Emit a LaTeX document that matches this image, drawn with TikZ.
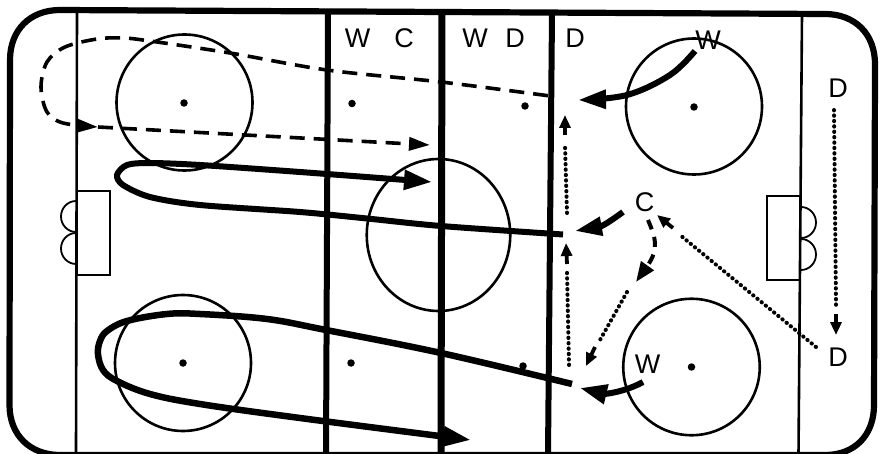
\documentclass[tikz,border=0pt]{standalone}
\usepackage{fontspec}
\setmainfont{Liberation Sans}
\usetikzlibrary{arrows.meta,shapes.geometric}
\tikzset{
 rinkline/.style={line width=6.2pt,line join=round},
 bluelinea/.style={line width=6pt},
 redlinea/.style={line width=7pt},
 thinline/.style={line width=2.6pt},
 goalbox/.style={line width=1.2pt},
 crease/.style={line width=1.8pt},
 faceoff/.style={line width=2.6pt},
 spot/.style={circle,fill=black,draw=none,minimum size=7.5pt,inner sep=0pt},
 lab/.style={font=\fontsize{27}{27}\selectfont,inner sep=0pt,text height=19pt,text depth=0pt,anchor=center},
 skate/.style={line width=6pt,line cap=butt},
 skatetip/.style={-{Triangle[length=28pt,width=19pt]}},
 dashpath/.style={line width=3.6pt,dash pattern=on 15pt off 9pt},
 dashtip/.style={-{Triangle[length=21pt,width=13pt]}},
 pass/.style={line width=4pt,line cap=round,dash pattern=on 0.4pt off 5pt},
 passshaft/.style={line width=3.8pt,-{Triangle[length=13pt,width=11pt]}},
}
\begin{document}
\begin{tikzpicture}[x=1pt,y=-1pt]
\useasboundingbox (0,0) rectangle (880,454);
\clip (0,0) rectangle (880,454);
\fill[white] (0,0) rectangle (880,454);
% rink
\draw[rinkline] (60,10) -- (825,14) .. controls (855,14) and (875,34) .. (875,64)
  -- (874,405) .. controls (874,435) and (855,455) .. (825,455) -- (60,455)
  .. controls (30,455) and (9.5,435) .. (9.5,405) -- (10,60) .. controls (10,30) and (30,10) .. (60,10) -- cycle;
% lines
\draw[thinline] (77,12) -- (76,454);
\draw[thinline] (802,14) -- (798.5,454);
\draw[bluelinea] (328,12) -- (326,454);
\draw[redlinea] (442,12) -- (441,454);
\draw[bluelinea] (552,14) -- (548,454);
% faceoff circles
\node[circle,draw,faceoff,minimum size=136pt,inner sep=0pt] (c1) at (184.5,102.5) {};
\node[circle,draw,faceoff,minimum size=136pt,inner sep=0pt] (c2) at (183,363) {};
\node[ellipse,draw,faceoff,minimum width=143.5pt,minimum height=152pt,inner sep=0pt] (c3) at (438.5,235) {};
\node[circle,draw,faceoff,minimum size=136pt,inner sep=0pt] (c4) at (694,106.5) {};
\node[circle,draw,faceoff,minimum size=136.5pt,inner sep=0pt] (c5) at (691.5,367) {};
% spots
\node[spot] (s1) at (184,103) {};
\node[spot] (s2) at (183,363) {};
\node[spot] (s3) at (352,103.5) {};
\node[spot] (s4) at (525,106) {};
\node[spot] (s5) at (351,363) {};
\node[spot] (s6) at (523,366) {};
\node[spot] (s7) at (694,107) {};
\node[spot] (s8) at (691.5,367) {};
% goals
\draw[goalbox] (77,191) rectangle (110,275);
\draw[goalbox] (767,196) rectangle (800,280);
\draw[crease] (76,201) arc[start angle=90,end angle=270,x radius=15,y radius=-15.5];
\draw[crease] (76,233) arc[start angle=90,end angle=270,x radius=15,y radius=-15.5];
\draw[crease] (801,207) arc[start angle=90,end angle=-90,x radius=15,y radius=-15.5];
\draw[crease] (801,239) arc[start angle=90,end angle=-90,x radius=15,y radius=-15.5];
% labels
\node[lab] (wa) at (357.5,38) {W};
\node[lab] (ca) at (404,38) {C};
\node[lab] (wb) at (475,38) {W};
\node[lab] (da) at (515,38) {D};
\node[lab] (db) at (575,38) {D};
\node[lab] (wc) at (708,40) {W};
\node[lab] (dc) at (838,88.5) {D};
\node[lab] (cb) at (644.5,202) {C};
\node[lab] (wd) at (647.5,363.5) {W};
\node[lab] (dd) at (838,357) {D};
% free ends
\coordinate (dashstart) at (548,95.7);
\coordinate (dashmid) at (98,127);
\coordinate (dashend) at (430,145);
\coordinate (upstart) at (563,234.5);
\coordinate (upend) at (432,182);
\coordinate (lowstart) at (572,384);
\coordinate (lowend) at (471,440);
\coordinate (wcstart) at (695,51);
\coordinate (wcend) at (578,100);
\coordinate (cbstart) at (623,212);
\coordinate (cbend) at (575,231);
\coordinate (wdstart) at (643,382);
\coordinate (wdend) at (580,388);
% dashed loop
\draw[dashpath,dashtip] plot[smooth,tension=0.55] coordinates {(dashstart) (441,82) (327,70) (230,53) (150,41) (123,38) (97,39) (65,47) (47,62) (41,87) (47,112) (63,123) (dashmid)};
\draw[dashpath,dashtip] (dashmid) -- (dashend);
% thick skating paths
\draw[skate,skatetip] plot[smooth,tension=0.5] coordinates {(upstart) (441,226) (367,218.5) (300,212) (200,205) (150,197) (123,185) (117,175) (127,165) (150,163) (200,165) (300,172) (upend)};
\draw[skate,skatetip,line width=6.5pt] plot[smooth,tension=0.6] coordinates {(lowstart) (441,353) (326,330) (267,319) (200,314) (167,314) (127,321) (107,331) (100,341) (98,354) (103,370) (117,381) (150,394) (200,404) (300,418) (lowend)};
\draw[skate,skatetip,-{Triangle[length=28pt,width=18pt]}] plot[smooth,tension=0.6] coordinates {(wcstart) (670,75) (627,95) (wcend)};
\draw[skate,-{Triangle[length=27pt,width=18pt]}] (cbstart) .. controls (612,220) and (603,226) .. (cbend);
\draw[skate,-{Triangle[length=27pt,width=19pt]}] (wdstart) .. controls (625,392) and (605,394) .. (wdend);
% dotted passes
\coordinate (pa) at (567,213);
\coordinate (pb) at (565,145);
\coordinate (pbs) at (565,135);
\coordinate (pbe) at (565,115);
\draw[pass] (pa) -- (pb);
\draw[passshaft] (pbs) -- (pbe);
\coordinate (qa) at (569,365);
\coordinate (qb) at (567,272);
\coordinate (qbs) at (567,264);
\coordinate (qbe) at (566,243);
\draw[pass] (qa) -- (qb);
\draw[passshaft] (qbs) -- (qbe);
\coordinate (ra) at (816,347);
\coordinate (rb) at (680,235);
\coordinate (rbs) at (673,228);
\coordinate (rbe) at (657,215);
\draw[pass] (ra) -- (rb);
\draw[passshaft] (rbs) -- (rbe);
\coordinate (ta) at (627,292);
\coordinate (tb) at (600,340);
\coordinate (tbs) at (595,347);
\coordinate (tbe) at (586,366);
\draw[pass] (ta) -- (tb);
\draw[passshaft] (tbs) -- (tbe);
\coordinate (ua) at (834,110);
\coordinate (ub) at (836,305);
\coordinate (ubs) at (836,314);
\coordinate (ube) at (836,335);
\draw[pass] (ua) -- (ub);
\draw[passshaft] (ubs) -- (ube);
% C dashed
\coordinate (va) at (648,220);
\coordinate (vb) at (636,282);
\draw[line width=4pt,dash pattern=on 10pt off 8pt,-{Triangle[length=20pt,width=15pt]}] (va) .. controls (655,237) and (660,248) .. (vb);
\end{tikzpicture}
\end{document}
